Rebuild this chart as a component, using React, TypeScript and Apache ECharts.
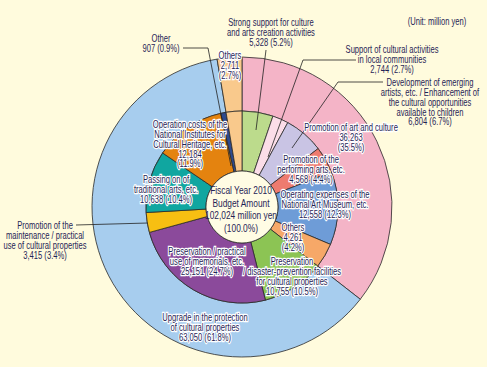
import React, { useEffect, useRef } from 'react';
import * as echarts from 'echarts';

// ---------- data ----------
const outerNames = ['Promotion of art and culture', 'Upgrade in the protection\nof cultural properties', 'Others'];
const outerValues = [36263, 63050, 2711];
const outerPcts = [35.5, 61.8, 2.7];
const outerColors = ['#F4B4C7', '#A7CDEE', '#F9C98C'];

const innerNames = [
  'Strong support for culture\nand arts creation activities',
  'Support of cultural activities\nin local communities',
  'Development of emerging\nartists, etc. / Enhancement of\nthe cultural opportunities\navailable to children',
  'Promotion of the\nperforming arts, etc.',
  'Operating expenses of the\nNational Art Museum, etc.',
  'Others',
  'Preservation\n/ disaster-prevention facilities\nfor cultural properties',
  'Preservation / practical\nuse of memorials, etc.',
  'Promotion of the\nmaintenance / practical\nuse of cultural properties',
  'Passing on of\ntraditional arts, etc.',
  'Operation costs of the\nNational Institutes for\nCultural Heritage, etc.',
  'Other',
  'Others',
];
const innerValues = [5328, 2744, 6804, 4568, 12558, 4261, 10755, 25151, 3415, 10638, 12184, 907, 2711];
const innerPcts = [5.2, 2.7, 6.7, 4.4, 12.3, 4.2, 10.5, 24.7, 3.4, 10.4, 11.9, 0.9, 2.7];
const innerColors = [
  '#BCDB8C', '#FBDDE8', '#C9C4E4', '#EE7B6F', '#6E9CD7', '#F6A868',
  '#8CC454', '#8B4A9B', '#F7BF12', '#10A6A0', '#E4830F', '#2E4A8E', '#F9C98C',
];

const totalTitle = ['Fiscal Year 2010', 'Budget Amount'];
const totalValue = 102024;
const totalUnit = 'million yen';
const totalPct = '100.0';
const unitNote = '(Unit: million yen)';

// ---------- layout (label placement only) ----------
type Lab = { ring: 'inner' | 'outer'; i: number; x: number; y: number; sep: string; halo: boolean };
const labels: Lab[] = [
  { ring: 'inner', i: 0, x: 271, y: 18, sep: ' ', halo: false },
  { ring: 'inner', i: 1, x: 392, y: 45, sep: ' ', halo: false },
  { ring: 'inner', i: 2, x: 430, y: 78, sep: ' ', halo: false },
  { ring: 'outer', i: 0, x: 351, y: 123, sep: '\n', halo: true },
  { ring: 'inner', i: 3, x: 311, y: 155, sep: ' ', halo: true },
  { ring: 'inner', i: 4, x: 325, y: 190, sep: ' ', halo: true },
  { ring: 'inner', i: 5, x: 293, y: 223, sep: '\n', halo: true },
  { ring: 'inner', i: 6, x: 292, y: 257, sep: ' ', halo: true },
  { ring: 'outer', i: 1, x: 205, y: 313, sep: ' ', halo: true },
  { ring: 'inner', i: 7, x: 207, y: 247, sep: ' ', halo: true },
  { ring: 'inner', i: 8, x: 45, y: 221, sep: ' ', halo: false },
  { ring: 'inner', i: 9, x: 166, y: 175, sep: ' ', halo: true },
  { ring: 'inner', i: 10, x: 190, y: 120, sep: '\n', halo: true },
  { ring: 'inner', i: 11, x: 161, y: 34, sep: ' ', halo: false },
  { ring: 'outer', i: 2, x: 230, y: 51, sep: '\n', halo: true },
];

const leaders: number[][][] = [
  [[183, 48], [208, 48], [231, 166]],
  [[266, 50], [256, 130]],
  [[356, 60], [303, 60], [268, 157]],
  [[383, 82], [338, 82], [292, 148]],
  [[76, 225], [148, 223]],
];

const FONT = "'Liberation Sans', Arial, sans-serif";
const TEXT = '#1F2456';
const fmt = (v: number) => v.toLocaleString('en-US');

export default function App() {
  const ref = useRef<HTMLDivElement>(null);
  useEffect(() => {
    const chart = echarts.init(ref.current!, null, { renderer: 'svg' });
    const cx = 242, cy = 207;
    const border = { borderColor: '#2a2a2a', borderWidth: 0.8 };

    const graphic: any[] = [];
    leaders.forEach((pts) => {
      graphic.push({
        type: 'polyline', z: 100, silent: true,
        shape: { points: pts },
        style: { stroke: '#222', lineWidth: 0.8, fill: null },
      });
    });
    labels.forEach((l) => {
      const name = l.ring === 'inner' ? innerNames[l.i] : outerNames[l.i];
      const val = l.ring === 'inner' ? innerValues[l.i] : outerValues[l.i];
      const pct = l.ring === 'inner' ? innerPcts[l.i] : outerPcts[l.i];
      const text = `${name}\n${fmt(val)}${l.sep}(${pct.toFixed(1)}%)`;
      graphic.push({
        type: 'text', z: 110, silent: true, x: l.x, y: l.y, scaleX: 0.76,
        style: {
          text, fill: TEXT, stroke: l.halo ? '#ffffff' : null, lineWidth: l.halo ? 2.5 : 0,
          fontSize: 10, fontFamily: FONT, align: 'center', verticalAlign: 'top', lineHeight: 9.8,
        },
      });
    });
    graphic.push({
      type: 'text', z: 110, silent: true, x: 241, y: 184, scaleX: 0.76,
      style: {
        text: `${totalTitle.join('\n')}\n${fmt(totalValue)} ${totalUnit}\n(${totalPct}%)`,
        fill: TEXT, fontSize: 11, fontFamily: FONT, align: 'center', verticalAlign: 'top', lineHeight: 12.5,
      },
    });
    graphic.push({
      type: 'text', z: 110, silent: true, x: 437, y: 17, scaleX: 0.76,
      style: { text: unitNote, fill: TEXT, fontSize: 10, fontFamily: FONT, align: 'center', verticalAlign: 'top' },
    });

    const common = {
      type: 'pie', center: [cx, cy], startAngle: 90, clockwise: true, silent: true,
      label: { show: false }, labelLine: { show: false }, emphasis: { disabled: true },
      avoidLabelOverlap: false,
    };

    chart.setOption({
      animation: false,
      backgroundColor: '#FFFBDD',
      series: [
        {
          ...common, name: 'outer', radius: [96, 150],
          data: outerValues.map((v, i) => ({ value: v, name: outerNames[i], itemStyle: { color: outerColors[i], ...border } })),
        },
        {
          ...common, name: 'inner', radius: [36, 96],
          data: innerValues.map((v, i) => ({ value: v, name: innerNames[i], itemStyle: { color: innerColors[i], ...border } })),
        },
        {
          ...common, name: 'total', radius: [0, 36],
          data: [{ value: totalValue, name: 'Total', itemStyle: { color: '#FFFCE4', ...border } }],
        },
      ],
      graphic,
    });
    return () => chart.dispose();
  }, []);
  return <div ref={ref} style={{ position: 'absolute', left: 0, top: 0, width: 487, height: 367 }} />;
}
